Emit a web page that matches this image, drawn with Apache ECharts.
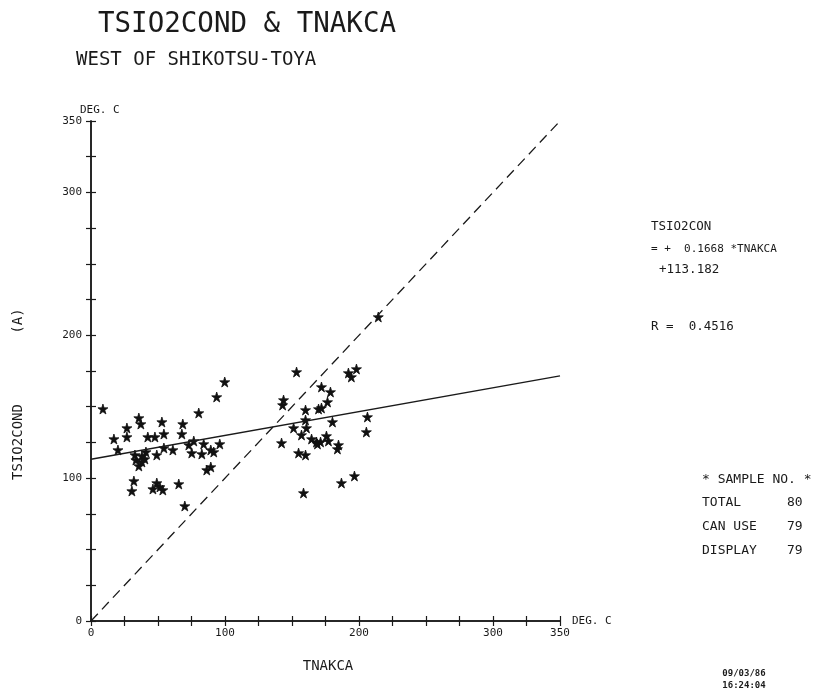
<!DOCTYPE html>
<html>
<head>
<meta charset="utf-8">
<script src="https://cdn.jsdelivr.net/npm/echarts@6/dist/echarts.min.js"></script>
<style>html,body{margin:0;padding:0;background:#fff}#c{width:818px;height:692px}</style>
</head>
<body>
<div id="c"></div>
<script>
// ---- data ----
const tnakca = [8.9,99.8,93.8,80.4,35.7,37.2,52.9,68.5,26.8,17.1,26.8,54.4,67.8,42.4,47.7,76.7,73.0,84.1,96.1,20.1,54.4,61.1,89.4,91.6,75.2,82.7,41.0,49.1,32.8,38.0,33.5,38.0,35.7,40.2,86.4,89.4,32.0,30.5,49.1,51.4,46.2,53.6,65.5,70.0,
  214.4,153.4,194.3,198.1,192.1,172.0,178.7,143.7,143.0,176.5,160.1,169.8,172.0,160.1,206.3,180.2,151.2,160.8,205.5,157.1,175.7,164.6,168.3,171.3,169.0,177.2,184.7,183.9,142.2,154.9,160.1,186.9,196.6,158.6];
const tsio2cond = [148.4,167.3,156.8,145.6,142.1,137.9,139.3,137.9,135.1,127.4,128.8,130.9,130.9,128.8,128.8,126.0,123.2,123.9,123.9,119.7,121.1,119.7,119.7,118.3,117.6,116.9,118.3,116.2,116.2,115.5,112.7,111.3,108.5,113.4,105.7,107.8,98.0,91.0,96.6,93.8,92.4,91.7,95.9,80.5,
  212.8,174.3,170.8,176.4,173.6,163.8,160.3,154.7,151.2,153.3,147.7,148.4,149.1,140.7,142.8,139.3,135.1,135.1,132.3,130.2,129.5,127.4,125.3,125.3,123.9,126.0,123.2,120.4,124.6,117.6,116.2,96.6,101.5,89.6];
const slope = 0.1668;
const intercept = 113.182;
const axisRange = [0, 350];
const tickLabels = [0, 100, 200, 300, 350];

const pts = tnakca.map((x, i) => [x, tsio2cond[i]]);
const fitLine = axisRange.map(x => [x, slope * x + intercept]);
const oneToOne = axisRange.map(x => [x, x]);

const FONT = 'DejaVu Sans Mono';
const INK = '#1a1a1a';
const star = 'path://M50,0 L61,35 L98,35 L68,57 L79,91 L50,70 L21,91 L32,57 L2,35 L39,35 Z';

const chart = echarts.init(document.getElementById('c'));

function labFmt(v) { return tickLabels.indexOf(v) >= 0 ? String(v) : ''; }
const gridBox = { left: 91, top: 121, width: 469, height: 500, containLabel: false, outerBoundsMode: 'none' };
function mkAxis(gi, inside, extra) {
  return Object.assign({
    type: 'value', gridIndex: gi, min: axisRange[0], max: axisRange[1], interval: 25,
    splitLine: { show: false },
    axisLine: { show: true, onZero: false, lineStyle: { color: INK, width: 1.5 } },
    axisTick: { show: true, inside: inside, length: 5, lineStyle: { color: INK, width: 1.2 } },
    axisLabel: { show: false }
  }, extra || {});
}

function txt(x, y, s, size, extra) {
  return {
    type: 'text', x: x, y: y,
    style: Object.assign({ text: s, fill: INK, font: size + 'px "' + FONT + '"', textVerticalAlign: 'middle' }, extra || {})
  };
}

chart.setOption({
  animation: false,
  backgroundColor: '#fff',
  grid: [gridBox, Object.assign({}, gridBox)],
  xAxis: [
    mkAxis(0, false, {
      position: 'bottom',
      name: 'DEG. C', nameLocation: 'end', nameGap: 12,
      nameTextStyle: { color: INK, fontFamily: FONT, fontSize: 11, verticalAlign: 'middle', padding: [8, 0, 0, 0] },
      axisLabel: { show: true, color: INK, fontFamily: FONT, fontSize: 11, margin: 7, formatter: labFmt, showMaxLabel: true, showMinLabel: true }
    }),
    mkAxis(1, true, { position: 'bottom' })
  ],
  yAxis: [
    mkAxis(0, false, {
      position: 'left',
      name: 'DEG. C', nameLocation: 'end', nameGap: 4,
      nameTextStyle: { color: INK, fontFamily: FONT, fontSize: 11, align: 'left', padding: [0, 0, 0, -11] },
      axisLabel: { show: true, color: INK, fontFamily: FONT, fontSize: 11, margin: 9, formatter: labFmt, showMaxLabel: true, showMinLabel: true }
    }),
    mkAxis(1, true, { position: 'left' })
  ],
  series: [
    { type: 'line', xAxisIndex: 0, yAxisIndex: 0, data: oneToOne, symbol: 'none', silent: true,
      lineStyle: { color: INK, width: 1.3, type: [10, 6] } },
    { type: 'line', xAxisIndex: 0, yAxisIndex: 0, data: fitLine, symbol: 'none', silent: true,
      lineStyle: { color: INK, width: 1.4 } },
    { type: 'scatter', xAxisIndex: 0, yAxisIndex: 0, data: pts, symbol: star, symbolSize: 10,
      itemStyle: { color: '#111', borderColor: '#111', borderWidth: 0.8, opacity: 1 } },
    { type: 'scatter', xAxisIndex: 1, yAxisIndex: 1, data: [], silent: true }
  ],
  graphic: [
    txt(98, 25, 'TSIO2COND & TNAKCA', 27.5),
    txt(76, 60, 'WEST OF SHIKOTSU-TOYA', 19),
    txt(651, 227, 'TSIO2CON', 12.5),
    txt(651, 249, '= +  0.1668 *TNAKCA', 11),
    txt(659, 270, '+113.182', 12.5),
    txt(651, 327, 'R =  0.4516', 12.5),
    txt(702, 480, '* SAMPLE NO. *', 13),
    txt(702, 503, 'TOTAL', 13), txt(787, 503, '80', 13),
    txt(702, 527, 'CAN USE', 13), txt(787, 527, '79', 13),
    txt(702, 551, 'DISPLAY', 13), txt(787, 551, '79', 13),
    txt(744, 674, '09/03/86', 9, { textAlign: 'center', font: 'bold 9px "' + FONT + '"' }),
    txt(744, 686, '16:24:04', 9, { textAlign: 'center', font: 'bold 9px "' + FONT + '"' }),
    txt(328, 666, 'TNAKCA', 14, { textAlign: 'center' }),
    { type: 'text', x: 18, y: 442, rotation: Math.PI / 2,
      style: { text: 'TSIO2COND', fill: INK, font: '14px "' + FONT + '"', textAlign: 'center', textVerticalAlign: 'middle' } },
    { type: 'text', x: 18, y: 321, rotation: Math.PI / 2,
      style: { text: '(A)', fill: INK, font: '14px "' + FONT + '"', textAlign: 'center', textVerticalAlign: 'middle' } }
  ]
});
</script>
</body>
</html>
